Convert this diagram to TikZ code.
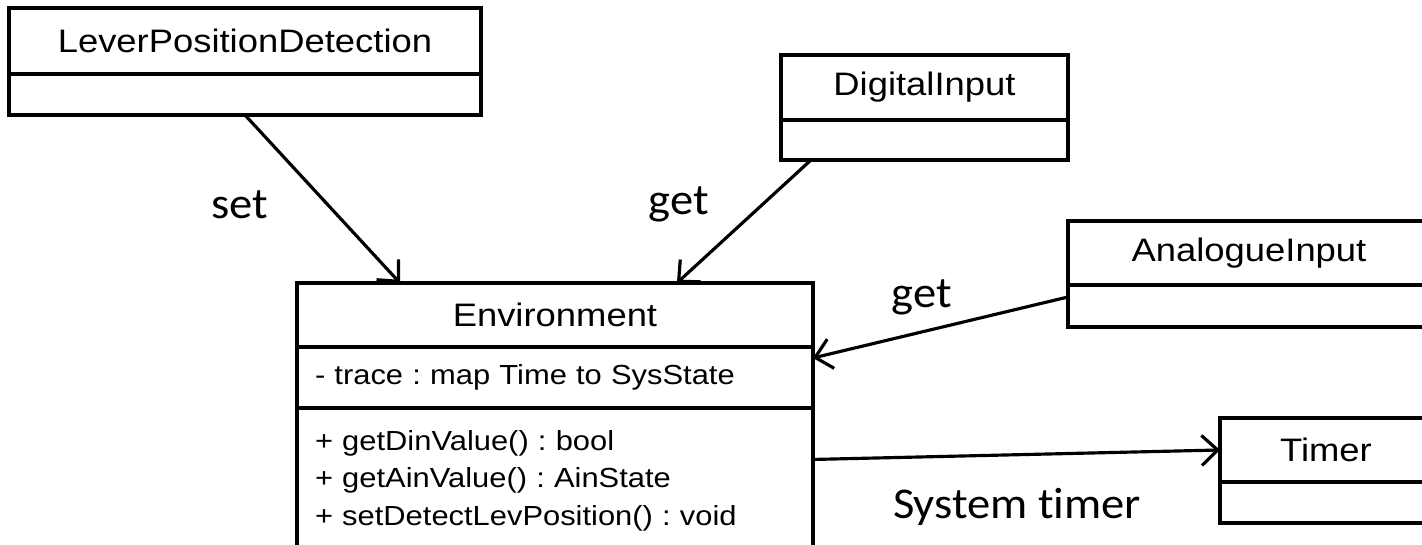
\documentclass[tikz,border=0pt]{standalone}
\usepackage{fontspec}
\newfontfamily\umlfont[FakeStretch=1.12]{Liberation Sans}
\newfontfamily\notefont[FakeStretch=1.06, Ligatures=NoCommon]{Carlito}
\usepackage{tikz}
\usetikzlibrary{arrows.meta,positioning}
\frenchspacing
\newcommand{\namesize}{\fontsize{18.5}{22}\selectfont}
\newcommand{\membersize}{\fontsize{15.7}{21.3}\selectfont}
\newcommand{\notesize}{\fontsize{25}{30}\selectfont}
\tikzset{
    common/.style={draw, line width=2.2pt, rectangle, outer sep=0pt, inner sep=0pt},
    classname/.style={common, anchor=north west, font=\umlfont\namesize, minimum height=1.3cm},
    classbody/.style={common, minimum height=0.82cm},
    members/.style={common, font=\umlfont\membersize, align=left, inner xsep=0.36cm, text width=9.6cm},
    note/.style={font=\notefont\notesize, inner sep=0pt},
    assoc/.style={line width=1.8pt, -{Straight Barb[length=0.32cm, width=0.6cm]}}
}
\begin{document}
\begin{tikzpicture}[x=0.02cm, y=-0.02cm]
        \useasboundingbox (0,0) rectangle (1422,544);

        % classes
        \node[classname, minimum width=9.44cm, minimum height=1.32cm] (lpd) at (9,8) {LeverPositionDetection};
        \node[classbody, minimum width=9.44cm, below=0pt of lpd] (lpdbody) {};

        \node[classname, minimum width=5.74cm] (di) at (781,55) {DigitalInput};
        \node[classbody, minimum width=5.74cm, minimum height=0.8cm, below=0pt of di] (dibody) {};

        \node[classname, minimum width=7.24cm, minimum height=1.28cm] (ai) at (1068,221) {AnalogueInput};
        \node[classbody, minimum width=7.24cm, minimum height=0.84cm, below=0pt of ai] (aibody) {};

        \node[classname, minimum width=4.24cm, minimum height=1.28cm] (timer) at (1220,418) {Timer};
        \node[classbody, minimum width=4.24cm, below=0pt of timer] (timerbody) {};

        \node[classname, minimum width=10.32cm, minimum height=1.28cm] (env) at (297,283) {Environment};
        \node[members, minimum height=1.22cm, below=0pt of env] (envattr) {- trace : map Time to SysState};
        \node[members, minimum height=2.9cm, below=0pt of envattr] (envops) {+ getDinValue() : bool\\+ getAinValue() : AinState\\+ setDetectLevPosition() : void};

        % associations
        \draw[assoc] (lpdbody.south) -- ([xshift=-3.1cm]env.north);
        \draw[assoc] ([xshift=-2.27cm]dibody.south) -- ([xshift=2.44cm]env.north);
        \draw[assoc] ([yshift=0.18cm]aibody.west) -- ([yshift=0.39cm]envattr.east);
        \draw[assoc] ([yshift=0.42cm]envops.east) -- (timer.west);

        \node[note] (setlabel) at (240,205) {set};
        \node[note] (getdin) at (679,204) {get};
        \node[note] (getain) at (922,297) {get};
        \node[note] (systimer) at (1017,507) {System timer};
\end{tikzpicture}
\end{document}
